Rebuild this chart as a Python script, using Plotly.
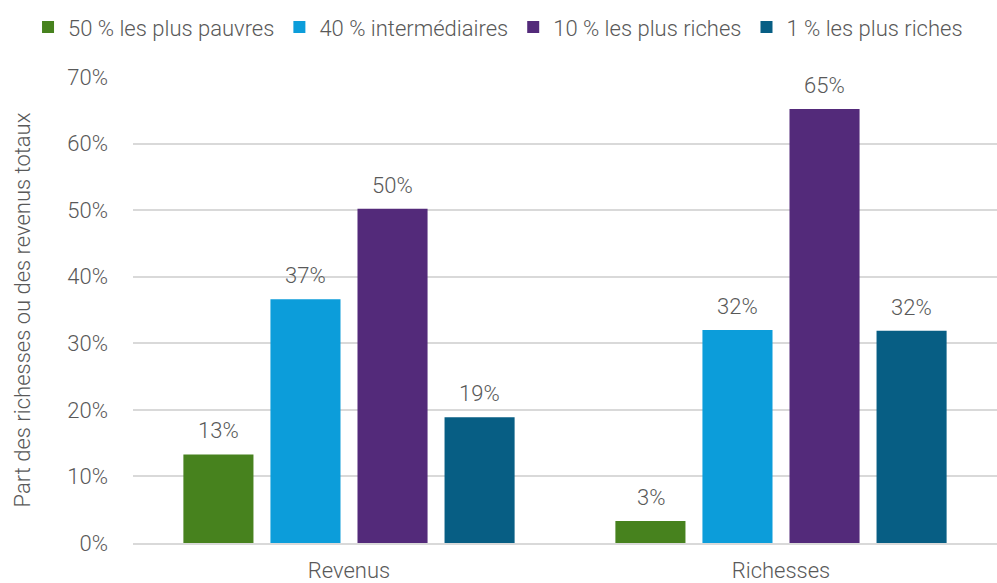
import plotly.graph_objects as go

categories = ["Revenus", "Richesses"]
series_names = ["50 % les plus pauvres", "40 % intermédiaires",
                "10 % les plus riches", "1 % les plus riches"]
values = [
    [13.3, 3.3],
    [36.6, 32.0],
    [50.2, 65.2],
    [18.9, 31.9],
]
colors = ["#47821E", "#0C9DDA", "#532A7A", "#075E84"]
y_ticks = [0, 10, 20, 30, 40, 50, 60, 70]

TEXT = "#595959"
FONT = "Roboto"
FS = 22
BAR_PITCH = 87  # px between bar centres inside a group

fig = go.Figure()
for i, (name, vals, col) in enumerate(zip(series_names, values, colors)):
    fig.add_trace(go.Bar(
        x=categories, y=vals, name=name,
        marker=dict(color=col, line=dict(width=0)),
    ))
    # value labels, a bit higher above the bars than plotly's default
    for cat, v in zip(categories, vals):
        fig.add_annotation(
            x=cat, y=v, text=f"{v:.0f}%", showarrow=False,
            xshift=(i - 1.5) * BAR_PITCH, yshift=9, yanchor="bottom",
            font=dict(size=FS, color=TEXT, family=FONT, weight=300),
        )

fig.update_layout(
    width=997, height=583,
    barmode="group", bargap=0.194, bargroupgap=0.195,
    paper_bgcolor="white", plot_bgcolor="white",
    font=dict(family=FONT, color=TEXT, size=FS, weight=300),
    margin=dict(l=133, r=0, t=77, b=40),
    # left of and above the plot area -> plotly lets it use the full width
    legend=dict(orientation="h", x=-0.1215, xanchor="left",
                y=1.107, yanchor="middle",
                font=dict(size=22, color=TEXT, weight=300),
                itemwidth=30, traceorder="normal"),
)
fig.update_xaxes(showline=True, linecolor="#d9d9d9", linewidth=1.5,
                 automargin=False, ticks="", ticklabelstandoff=7,
                 tickfont=dict(size=FS, color=TEXT, weight=300))
fig.update_yaxes(range=[0, 70], tickvals=y_ticks,
                 ticktext=[f"{t}%" for t in y_ticks],
                 showgrid=True, gridcolor="#d9d9d9", gridwidth=1.5,
                 zeroline=False, ticks="", ticklabelstandoff=24,
                 automargin=False,
                 tickfont=dict(size=FS, color=TEXT, weight=300),
                 title=dict(text="Part des richesses ou des revenus totaux",
                            font=dict(size=FS, color=TEXT, weight=300), standoff=30))

# drop the browser's default 8px body margin so the figure sits at (0, 0)
fig.write_html("out.html", config={"displayModeBar": False},
               post_script="document.body.style.margin='0';")
